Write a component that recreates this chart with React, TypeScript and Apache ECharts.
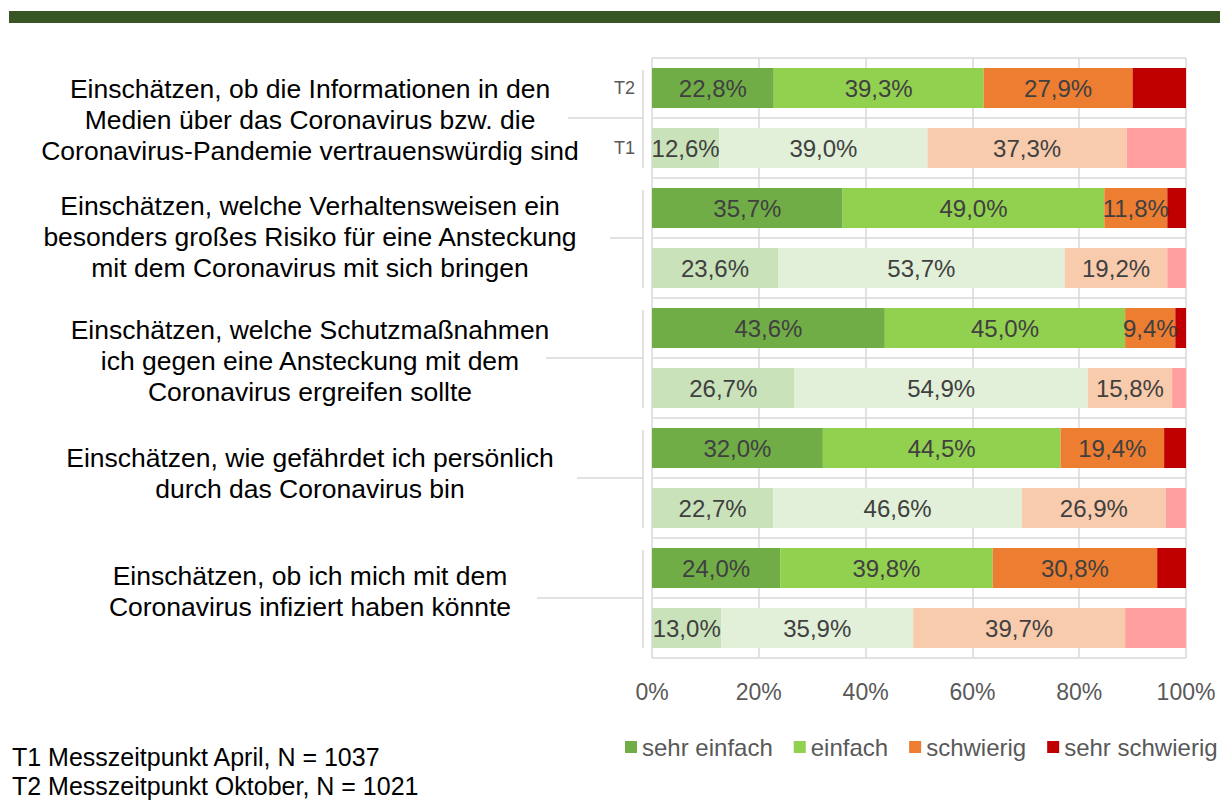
import React, { useEffect, useRef } from 'react';
import * as echarts from 'echarts';

const groups = [
  'Einschätzen, ob die Informationen in den\nMedien über das Coronavirus bzw. die\nCoronavirus-Pandemie vertrauenswürdig sind',
  'Einschätzen, welche Verhaltensweisen ein\nbesonders großes Risiko für eine Ansteckung\nmit dem Coronavirus mit sich bringen',
  'Einschätzen, welche Schutzmaßnahmen\nich gegen eine Ansteckung mit dem\nCoronavirus ergreifen sollte',
  'Einschätzen, wie gefährdet ich persönlich\ndurch das Coronavirus bin',
  'Einschätzen, ob ich mich mit dem\nCoronavirus infiziert haben könnte',
];
const periods = ['T2', 'T1'];
const seriesNames = ['sehr einfach', 'einfach', 'schwierig', 'sehr schwierig'];

// order per group: T2, T1
const sehrEinfach = [22.8, 12.6, 35.7, 23.6, 43.6, 26.7, 32.0, 22.7, 24.0, 13.0];
const einfach = [39.3, 39.0, 49.0, 53.7, 45.0, 54.9, 44.5, 46.6, 39.8, 35.9];
const schwierig = [27.9, 37.3, 11.8, 19.2, 9.4, 15.8, 19.4, 26.9, 30.8, 39.7];
const sehrSchwierig = [10.0, 11.1, 3.5, 3.5, 2.0, 2.6, 4.1, 3.8, 5.4, 11.4];

const xTicks = [0, 20, 40, 60, 80, 100];
const footnotes = ['T1 Messzeitpunkt April, N = 1037', 'T2 Messzeitpunkt Oktober, N = 1021'];

const colorsT2 = ['#70AD47', '#92D050', '#ED7D31', '#C00000'];
const colorsT1 = ['#C9E2B9', '#E2F0D9', '#F8CBAD', '#FF9F9F'];
const FONT = '"Liberation Sans", Arial, sans-serif';
const lineStarts = [568, 610, 546, 577, 537];
const labelOffsets = [2, -1, 3, -5, -7];

export default function App() {
  const ref = useRef<HTMLDivElement>(null);
  useEffect(() => {
    document.body.style.margin = '0';
    if (!ref.current) return;
    const chart = echarts.init(ref.current, undefined, { renderer: 'svg' });
    const categories = groups.flatMap((_, gi) => periods.map((p) => `${gi}|${p}`));
    const all = [sehrEinfach, einfach, schwierig, sehrSchwierig];
    const series = all.map((vals, si) => ({
      name: seriesNames[si],
      type: 'bar',
      stack: 'total',
      barWidth: 40,
      itemStyle: { color: colorsT2[si] },
      label: {
        show: si < 3,
        position: 'inside',
        color: '#404040',
        fontSize: 24,
        fontFamily: FONT,
        formatter: (p: any) => p.value.toFixed(1).replace('.', ',') + '%',
      },
      data: vals.map((v, i) => ({ value: v, itemStyle: { color: i % 2 === 0 ? colorsT2[si] : colorsT1[si] } })),
    }));
    const option: any = {
      animation: false,
      textStyle: { fontFamily: FONT },
      grid: { left: 652, right: 39, top: 58, height: 600 },
      xAxis: {
        type: 'value',
        min: xTicks[0],
        max: xTicks[xTicks.length - 1],
        interval: 20,
        axisLine: { show: false },
        axisTick: { show: false },
        axisLabel: { formatter: '{value}%', color: '#595959', fontSize: 23, margin: 22, fontFamily: FONT },
        splitLine: { lineStyle: { color: '#D9D9D9', width: 1.5 } },
      },
      yAxis: {
        type: 'category',
        data: categories,
        inverse: true,
        axisLine: { show: false },
        axisTick: { show: false },
        axisLabel: {
          interval: 0,
          margin: 17,
          color: '#595959',
          fontSize: 18,
          fontFamily: FONT,
          formatter: (v: string) => {
            const [g, p] = v.split('|');
            return g === '0' ? p : '';
          },
        },
        splitLine: { show: true, interval: 0, lineStyle: { color: '#D9D9D9', width: 1.5 } },
      },
      legend: {
        data: seriesNames,
        left: 625,
        top: 735,
        width: 600,
        padding: 0,
        icon: 'rect',
        itemWidth: 12,
        itemHeight: 12,
        itemGap: 21,
        textStyle: { color: '#595959', fontSize: 24, fontFamily: FONT },
      },
      series,
    };
    chart.setOption(option);

    const yOf = (i: number) => chart.convertToPixel({ yAxisIndex: 0 }, categories[i]) as number;
    const graphics: any[] = [
      { type: 'rect', shape: { x: 9, y: 11, width: 1211, height: 12 }, style: { fill: '#375623' } },
    ];
    groups.forEach((g, gi) => {
      const yT2 = yOf(gi * 2);
      const yT1 = yOf(gi * 2 + 1);
      const mid = (yT2 + yT1) / 2;
      graphics.push({
        type: 'text',
        x: 310,
        y: mid + labelOffsets[gi],
        style: { text: g, fill: '#000000', fontSize: 26.5, fontFamily: FONT, align: 'center', verticalAlign: 'middle', lineHeight: 31 },
      });
      graphics.push({ type: 'line', shape: { x1: 643, y1: yT2 - 18, x2: 643, y2: yT1 + 20 }, style: { stroke: '#D9D9D9', lineWidth: 1.5 } });
      graphics.push({ type: 'line', shape: { x1: lineStarts[gi], y1: mid, x2: 643, y2: mid }, style: { stroke: '#D9D9D9', lineWidth: 1.5 } });
    });
    graphics.push({
      type: 'text',
      x: 12,
      y: 771,
      style: { text: footnotes.join('\n'), fill: '#000000', fontSize: 25, fontFamily: FONT, align: 'left', verticalAlign: 'middle', lineHeight: 29 },
    });
    chart.setOption({ graphic: graphics });
    return () => chart.dispose();
  }, []);
  return <div ref={ref} style={{ width: 1225, height: 804 }} />;
}
